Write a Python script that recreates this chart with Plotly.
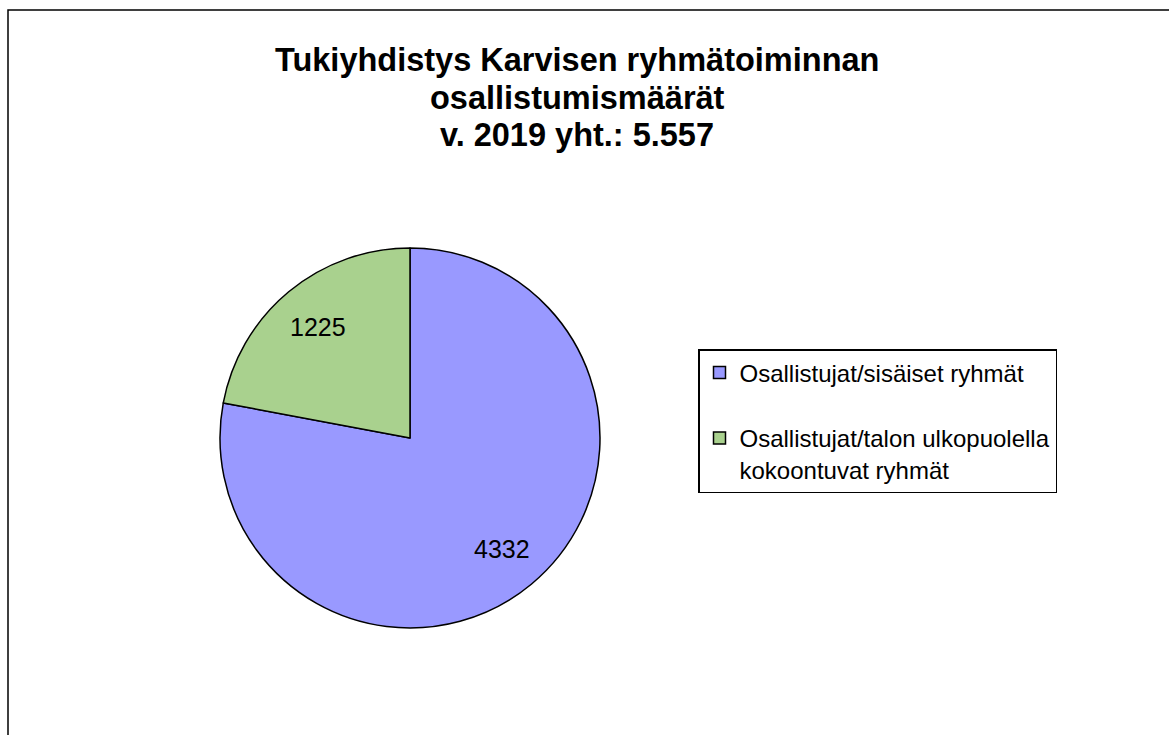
import math
import plotly.graph_objects as go

labels = ["Osallistujat/sisäiset ryhmät", "Osallistujat/talon ulkopuolella<br>kokoontuvat ryhmät"]
values = [4332, 1225]
colors = ["#9999FF", "#A9D18E"]
title_lines = ["Tukiyhdistys Karvisen ryhmätoiminnan", "osallistumismäärät", "v. 2019 yht.: 5.557"]

W, H = 1169, 735
cx, cy, r = 410, 438, 190
FONT = "Arial, Liberation Sans, sans-serif"

# legend spacing: pad first entry with a blank line (the reference shows a large gap)
legend_labels = [labels[0] + "<br> ", labels[1]]

fig = go.Figure(go.Pie(
    labels=legend_labels,
    values=values,
    sort=False,
    direction="clockwise",
    rotation=0,
    marker=dict(colors=colors, line=dict(color="black", width=1.5)),
    textinfo="none",
    domain=dict(x=[(cx - r) / W, (cx + r) / W], y=[1 - (cy + r) / H, 1 - (cy - r) / H]),
    hoverinfo="value",
))

annotations = []
# value labels placed along each slice's bisector (as in the reference)
total = sum(values)
cum = 0
for v in values:
    mid = (cum + v / 2) / total * 2 * math.pi
    cum += v
    d = 0.76 * r
    px = cx + d * math.sin(mid)
    py = cy - d * math.cos(mid)
    annotations.append(dict(
        text=str(v), x=px / W, y=1 - py / H, xref="paper", yref="paper",
        xanchor="center", yanchor="middle", showarrow=False,
        font=dict(size=25, family=FONT, color="black"),
    ))

title_y = [60, 98, 135]
for line, ty in zip(title_lines, title_y):
    annotations.append(dict(
        text="<b>" + line + "</b>",
        x=577 / W, y=1 - ty / H, xref="paper", yref="paper",
        xanchor="center", yanchor="middle", showarrow=False,
        font=dict(size=32.5, family=FONT, color="black"),
    ))

fig.update_layout(
    width=W, height=H,
    margin=dict(l=0, r=0, t=0, b=0),
    paper_bgcolor="white",
    font=dict(family=FONT, color="black"),
    showlegend=True,
    legend=dict(
        x=698 / W, y=1 - 349 / H, xanchor="left", yanchor="top",
        bordercolor="black", borderwidth=1.5, bgcolor="white",
        font=dict(size=24, family=FONT, color="black"),
        valign="top",
    ),
    annotations=annotations,
    shapes=[dict(
        type="rect", xref="paper", yref="paper",
        x0=8 / W, x1=1.02, y0=-0.02, y1=1 - 10 / H,
        line=dict(color="black", width=1.5), fillcolor="rgba(0,0,0,0)",
    )],
)

fig.write_html("out.html", config={"displayModeBar": False},
               post_script="document.body.style.margin='0';")
